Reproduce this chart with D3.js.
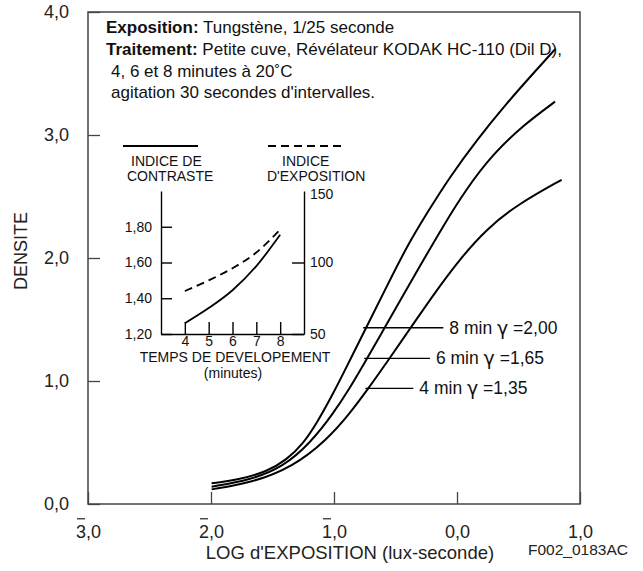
<!DOCTYPE html>
<html>
<head>
<meta charset="utf-8">
<script src="https://cdn.jsdelivr.net/npm/d3@7"></script>
<style>
  body { margin: 0; background: #fff; }
  svg { font-family: "Liberation Sans", Arial, sans-serif; }
</style>
</head>
<body>
<svg width="643" height="571"></svg>
<script>
// main chart: log exposure vs density, one curve per development time
const logE8 = [-1.995, -1.764, -1.547, -1.385, -1.249, -1.141, -1.005, -0.870, -0.734, -0.572, -0.409, -0.246, -0.057, 0.160, 0.404, 0.620, 0.80];
const dens8 = [0.168, 0.20, 0.263, 0.358, 0.493, 0.656, 0.900, 1.171, 1.442, 1.767, 2.092, 2.363, 2.661, 2.959, 3.258, 3.501, 3.70];
const logE6 = [-1.995, -1.683, -1.412, -1.195, -1.005, -0.870, -0.762, -0.612, -0.463, -0.301, -0.111, 0.079, 0.295, 0.539, 0.797];
const dens6 = [0.141, 0.194, 0.302, 0.493, 0.736, 0.945, 1.129, 1.391, 1.652, 1.935, 2.263, 2.567, 2.848, 3.080, 3.271];
const logE4 = [-1.995, -1.683, -1.331, -1.059, -0.870, -0.721, -0.558, -0.369, -0.192, 0.024, 0.241, 0.485, 0.851];
const dens4 = [0.119, 0.168, 0.303, 0.521, 0.738, 0.939, 1.170, 1.444, 1.701, 1.993, 2.236, 2.431, 2.636];

const curveNames = ["8 min", "6 min", "4 min"];
const gammas = ["2,00", "1,65", "1,35"];

const xTicks = [-3, -2, -1, 0, 1];
const yTicks = [0, 1, 2, 3, 4];

// inset: development time vs indices
const devTimes = [4, 5, 6, 7, 8];
const contrastIdx = [1.26, 1.345, 1.445, 1.58, 1.755];
const exposureIdx = [80, 87.5, 96, 107, 123];
const insetLeftTicks = [1.2, 1.4, 1.6, 1.8];
const insetRightTicks = [50, 100, 150];

const svg = d3.select("svg");

const x = d3.scaleLinear().domain([-3, 1]).range([88, 580]);
const y = d3.scaleLinear().domain([0, 4]).range([504, 12]);

const comma = v => v.toFixed(1).replace(".", ",");

// x axis, ticks pointing inward
const gx = svg.append("g")
  .attr("transform", "translate(0,504)")
  .call(d3.axisBottom(x).tickValues(xTicks).tickSize(-12).tickPadding(21)
    .tickFormat(d => comma(Math.abs(d))));
gx.select(".domain").remove();
gx.selectAll("line").attr("stroke", "#444").attr("stroke-width", 1.3);
gx.selectAll("text").attr("font-size", 18).attr("fill", "#222");

// bars above negative characteristics
gx.selectAll(".tick").filter(d => d < 0).each(function() {
  const t = d3.select(this).select("text").node();
  const b = t.getExtentOfChar(0);
  d3.select(this).append("line")
    .attr("x1", b.x + 1).attr("x2", b.x + b.width - 1)
    .attr("y1", b.y - 3).attr("y2", b.y - 3)
    .attr("stroke", "#222").attr("stroke-width", 1.2);
});

const gy = svg.append("g")
  .attr("transform", "translate(88,0)")
  .call(d3.axisLeft(y).tickValues(yTicks).tickSize(-12).tickPadding(19).tickFormat(comma));
gy.select(".domain").remove();
gy.selectAll("line").attr("stroke", "#444").attr("stroke-width", 1.3);
gy.selectAll("text").attr("font-size", 18).attr("fill", "#222");

// frame
svg.append("rect")
  .attr("x", x(-3)).attr("y", y(4))
  .attr("width", x(1) - x(-3)).attr("height", y(0) - y(4))
  .attr("fill", "none").attr("stroke", "#444").attr("stroke-width", 1.5);

svg.append("text")
  .attr("transform", "translate(27,251) rotate(-90)")
  .attr("text-anchor", "middle")
  .attr("font-size", 18).attr("fill", "#222")
  .text("DENSITE");

svg.append("text")
  .attr("x", 350).attr("y", 559)
  .attr("text-anchor", "middle")
  .attr("font-size", 18.5).attr("fill", "#222")
  .text("LOG d'EXPOSITION (lux-seconde)");

svg.append("text")
  .attr("x", 628).attr("y", 555)
  .attr("text-anchor", "end")
  .attr("font-size", 15.5).attr("fill", "#222")
  .text("F002_0183AC");

// curves
const series = [
  { xs: logE8, ys: dens8 },
  { xs: logE6, ys: dens6 },
  { xs: logE4, ys: dens4 }
];
const line = d3.line().x(d => x(d[0])).y(d => y(d[1])).curve(d3.curveBasis);
series.forEach(s => {
  svg.append("path")
    .datum(d3.zip(s.xs, s.ys))
    .attr("fill", "none").attr("stroke", "#000").attr("stroke-width", 2)
    .attr("d", line);
});

// leaders from each curve to its label
const leaderLevel = [1.433, 1.184, 0.94];
const leaderEnd = [-0.111, -0.22, -0.355];
function logEAt(s, level) {
  for (let i = 1; i < s.ys.length; i++) {
    if (s.ys[i] >= level) {
      const t = (level - s.ys[i - 1]) / (s.ys[i] - s.ys[i - 1]);
      return s.xs[i - 1] + t * (s.xs[i] - s.xs[i - 1]);
    }
  }
  return s.xs[s.xs.length - 1];
}
series.forEach((s, i) => {
  const lv = leaderLevel[i];
  svg.append("line")
    .attr("x1", x(logEAt(s, lv)) - 3).attr("x2", x(leaderEnd[i]))
    .attr("y1", y(lv)).attr("y2", y(lv))
    .attr("stroke", "#000").attr("stroke-width", 1.3);
  const t = svg.append("text")
    .attr("x", x(leaderEnd[i]) + 6).attr("y", y(lv) + 6)
    .attr("font-size", 17.5).attr("fill", "#111");
  t.append("tspan").text(curveNames[i] + " ");
  t.append("tspan").attr("font-family", "DejaVu Sans").attr("font-size", 19).attr("dy", 1).text("\u03b3");
  t.append("tspan").attr("dy", -1).text(" =" + gammas[i]);
});

// text block
const notes = svg.append("g").attr("font-size", 17).attr("fill", "#111");
const l1 = notes.append("text").attr("x", 106).attr("y", 33);
l1.append("tspan").attr("font-weight", "bold").text("Exposition:");
l1.append("tspan").text(" Tungstène, 1/25 seconde");
const l2 = notes.append("text").attr("x", 106).attr("y", 55);
l2.append("tspan").attr("font-weight", "bold").text("Traitement:");
l2.append("tspan").text(" Petite cuve, Révélateur KODAK HC-110 (Dil D),");
notes.append("text").attr("x", 111).attr("y", 77).text("4, 6 et 8 minutes à 20˚C");
notes.append("text").attr("x", 111).attr("y", 98).text("agitation 30 secondes d'intervalles.");

// inset
const xi = d3.scaleLinear().domain([3, 9]).range([161, 304]);
const yl = d3.scaleLinear().domain([1.2, 2.0]).range([334, 191]);
const yr = d3.scaleLinear().domain([50, 150]).range([334, 191]);

const inset = svg.append("g").attr("font-size", 14).attr("fill", "#111");

const ia = inset.append("g").attr("transform", "translate(161,0)")
  .call(d3.axisLeft(yl).tickValues(insetLeftTicks).tickSize(-11).tickSizeOuter(0).tickPadding(9)
    .tickFormat(d => d.toFixed(2).replace(".", ",")));
const ib = inset.append("g").attr("transform", "translate(304,0)")
  .call(d3.axisRight(yr).tickValues(insetRightTicks).tickSize(-12).tickSizeOuter(0).tickPadding(6)
    .tickFormat(d3.format("d")));
ib.selectAll(".tick").filter(d => d === 150).select("line").remove();
ib.selectAll(".tick").filter(d => d === 150).select("text").attr("dy", "0.5em");
const ic = inset.append("g").attr("transform", "translate(0,334)")
  .call(d3.axisBottom(xi).tickValues(devTimes).tickSize(-12).tickSizeOuter(0).tickPadding(2)
    .tickFormat(d3.format("d")));
[ia, ib, ic].forEach(g => {
  g.attr("font-size", 14).attr("font-family", null);
  g.selectAll("path, line").attr("stroke", "#000").attr("stroke-width", 1.4);
  g.selectAll("text").attr("fill", "#111");
});

inset.append("path")
  .datum(d3.zip(devTimes, contrastIdx))
  .attr("fill", "none").attr("stroke", "#000").attr("stroke-width", 1.8)
  .attr("d", d3.line().x(d => xi(d[0])).y(d => yl(d[1])).curve(d3.curveMonotoneX));
inset.append("path")
  .datum(d3.zip(devTimes, exposureIdx))
  .attr("fill", "none").attr("stroke", "#000").attr("stroke-width", 1.8)
  .attr("stroke-dasharray", "8,5")
  .attr("d", d3.line().x(d => xi(d[0])).y(d => yr(d[1])).curve(d3.curveMonotoneX));

// inset legend
inset.append("line").attr("x1", 123).attr("x2", 198).attr("y1", 146).attr("y2", 146)
  .attr("stroke", "#000").attr("stroke-width", 1.8);
inset.append("line").attr("x1", 268).attr("x2", 342).attr("y1", 146).attr("y2", 146)
  .attr("stroke", "#000").attr("stroke-width", 1.8).attr("stroke-dasharray", "8,5");
inset.append("text").attr("x", 131).attr("y", 166).text("INDICE DE");
inset.append("text").attr("x", 127).attr("y", 181).text("CONTRASTE");
inset.append("text").attr("x", 282).attr("y", 166).text("INDICE");
inset.append("text").attr("x", 267).attr("y", 181).text("D'EXPOSITION");
inset.append("text").attr("x", 235).attr("y", 362).attr("text-anchor", "middle").text("TEMPS DE DEVELOPEMENT");
inset.append("text").attr("x", 233).attr("y", 378).attr("text-anchor", "middle").text("(minutes)");
</script>
</body>
</html>
